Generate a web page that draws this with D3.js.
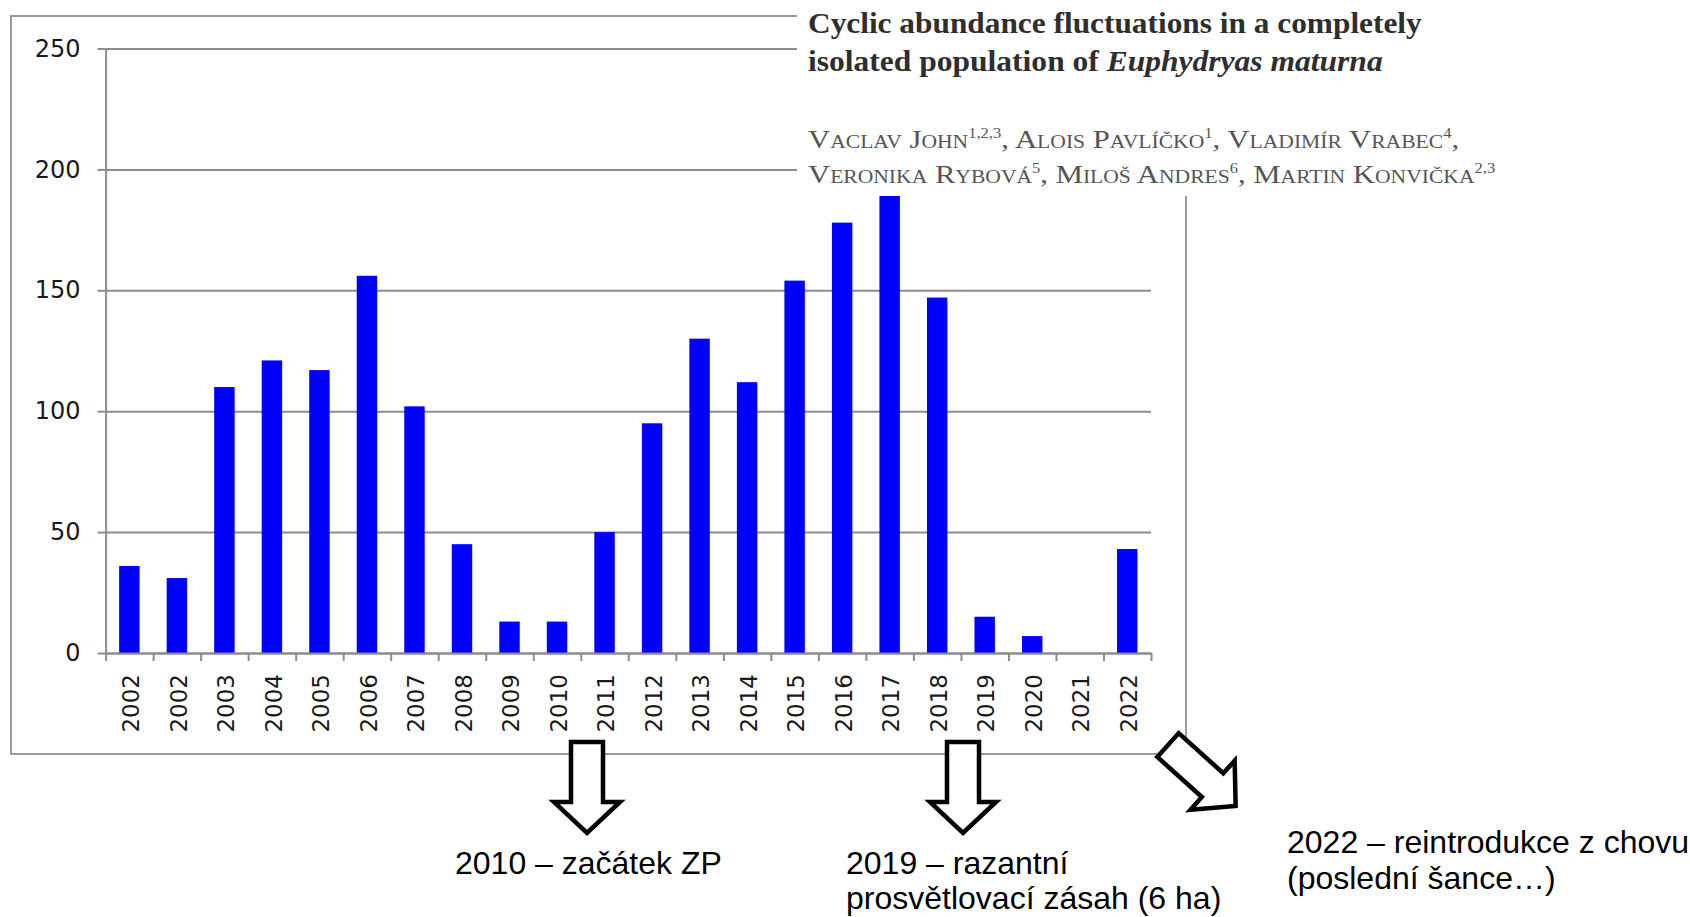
<!DOCTYPE html>
<html>
<head>
<meta charset="utf-8">
<script src="https://cdn.jsdelivr.net/npm/d3@7"></script>
<style>
  body { margin: 0; background: #fff; }
  svg { display: block; }
</style>
</head>
<body>
<div id="chart"></div>
<script>
// data
var years = ["2002", "2002", "2003", "2004", "2005", "2006", "2007", "2008", "2009", "2010", "2011",
             "2012", "2013", "2014", "2015", "2016", "2017", "2018", "2019", "2020", "2021", "2022"];
var counts = [36, 31, 110, 121, 117, 156, 102, 45, 13, 13, 50, 95, 130, 112, 154, 178, 192, 147, 15, 7, 0, 43];
var yTicks = [0, 50, 100, 150, 200, 250];

var titleLines = ["Cyclic abundance fluctuations in a completely", "isolated population of "];
var speciesName = "Euphydryas maturna";
var authorLines = [
    [["Vaclav John", "1,2,3"], ["Alois Pavlíčko", "1"], ["Vladimír Vrabec", "4"]],
    [["Veronika Rybová", "5"], ["Miloš Andres", "6"], ["Martin Konvička", "2,3"]]
];
var notes = [
    { lines: ["2010 – začátek ZP"], x: 455, y: 874, lh: 34 },
    { lines: ["2019 – razantní", "prosvětlovací zásah (6 ha)"], x: 846, y: 874, lh: 35 },
    { lines: ["2022 – reintrodukce z chovu", "(poslední šance…)"], x: 1287, y: 853, lh: 36 }
];

var W = 1690, H = 917;
var plot = { left: 105.6, right: 1151, top: 48.5, bottom: 653 };

var svg = d3.select("#chart").append("svg")
    .attr("width", W)
    .attr("height", H);

// outer frame of the chart picture
svg.append("rect")
    .attr("x", 11).attr("y", 16)
    .attr("width", 1175).attr("height", 738)
    .attr("fill", "none")
    .attr("stroke", "#9a9a9a")
    .attr("stroke-width", 2);

var x = d3.scaleBand()
    .domain(d3.range(years.length))
    .range([plot.left, plot.right])
    .paddingInner(0.57)
    .paddingOuter(0.285);

var xEdge = d3.scaleLinear()
    .domain([0, years.length])
    .range([plot.left, plot.right]);

var y = d3.scaleLinear()
    .domain([0, 250])
    .range([plot.bottom, plot.top]);

// gridlines
svg.append("g")
    .attr("transform", "translate(" + plot.left + ",0)")
    .call(d3.axisLeft(y).tickValues(yTicks).tickSize(-(plot.right - plot.left)).tickFormat(""))
    .call(function(g) { g.select(".domain").remove(); })
    .selectAll("line")
    .attr("stroke", "#8c8c8c")
    .attr("stroke-width", 2);

// y axis
var yAxis = svg.append("g")
    .attr("transform", "translate(" + plot.left + ",0)")
    .call(d3.axisLeft(y).tickValues(yTicks).tickSize(8).tickPadding(17).tickSizeOuter(0));
yAxis.selectAll("line, path").attr("stroke", "#8c8c8c").attr("stroke-width", 2);
yAxis.selectAll("text")
    .attr("font-family", "DejaVu Sans")
    .attr("font-size", 24)
    .attr("fill", "#1a1a1a");

// bars
svg.append("g")
    .selectAll("rect")
    .data(counts)
    .join("rect")
    .attr("x", function(d, i) { return x(i); })
    .attr("y", function(d) { return y(d); })
    .attr("width", x.bandwidth())
    .attr("height", function(d) { return y(0) - y(d); })
    .attr("fill", "#0000ff");

// x axis: ticks on category edges
var xTicks = svg.append("g")
    .attr("transform", "translate(0," + plot.bottom + ")")
    .call(d3.axisBottom(xEdge).tickValues(d3.range(years.length + 1)).tickSize(8).tickSizeOuter(0).tickFormat(""));
xTicks.selectAll("line, path").attr("stroke", "#8c8c8c").attr("stroke-width", 2);

// x labels, rotated
var xLabels = svg.append("g")
    .attr("transform", "translate(0," + plot.bottom + ")")
    .call(d3.axisBottom(x).tickSize(0).tickPadding(0).tickFormat(function(i) { return years[i]; }));
xLabels.select(".domain").remove();
xLabels.selectAll("text")
    .attr("font-family", "DejaVu Sans")
    .attr("font-size", 23)
    .attr("fill", "#1a1a1a")
    .attr("text-anchor", "end")
    .attr("transform", "rotate(-90)")
    .attr("x", -21)
    .attr("y", 0)
    .attr("dy", "0.42em");

// title box pasted on top (white background hides the grid)
svg.append("rect")
    .attr("x", 797).attr("y", 0)
    .attr("width", 710).attr("height", 196)
    .attr("fill", "#fff");

var title = svg.append("g").attr("font-family", "Liberation Serif").attr("font-weight", "bold")
    .attr("fill", "#2e2e2e").attr("font-size", 30);
title.append("text").attr("x", 808).attr("y", 33).text(titleLines[0]);
var t2 = title.append("text").attr("x", 808).attr("y", 71);
t2.append("tspan").text(titleLines[1]);
t2.append("tspan").attr("font-style", "italic").text(speciesName);

var authors = svg.append("g").attr("font-family", "Liberation Serif")
    .attr("fill", "#555").attr("font-size", 26).style("font-variant", "small-caps");
authorLines.forEach(function(line, li) {
    var t = authors.append("text").attr("x", 808).attr("y", 148 + li * 35);
    line.forEach(function(a, ai) {
        t.append("tspan").text((ai > 0 ? " " : "") + a[0]);
        t.append("tspan").attr("dy", -10).attr("font-size", 14).text(a[1]);
        t.append("tspan").attr("dy", 10).text(ai < line.length - 1 || li == 0 ? "," : "");
    });
});

// stretch the pasted title lines to the widths seen in the picture
var targetW = [614, 575, 645, 680];
svg.selectAll("g text").filter(function() { return this.getAttribute("x") == "808"; })
    .each(function(d, i) {
        var w = this.getBBox().width;
        var k = targetW[i] / w;
        d3.select(this).attr("transform", "translate(808,0) scale(" + k + ",1) translate(-808,0)");
    });

// hollow arrows
var arrowPath = "M-16,0 L16,0 L16,60 L33,60 L0,91 L-33,60 L-16,60 Z";
var arrows = [
    { x: 587, y: 742, r: 0 },
    { x: 963, y: 742, r: 0 },
    { x: 1168, y: 745, r: -48 }
];
svg.append("g")
    .selectAll("path")
    .data(arrows)
    .join("path")
    .attr("d", arrowPath)
    .attr("transform", function(d) { return "translate(" + d.x + "," + d.y + ") rotate(" + d.r + ")"; })
    .attr("fill", "#fff")
    .attr("stroke", "#000")
    .attr("stroke-width", 4.5)
    .attr("stroke-linejoin", "miter");

// notes under the arrows
var noteG = svg.append("g").attr("font-family", "Liberation Sans").attr("font-size", 32).attr("fill", "#000");
notes.forEach(function(n) {
    var t = noteG.append("text").attr("x", n.x).attr("y", n.y);
    n.lines.forEach(function(s, i) {
        t.append("tspan").attr("x", n.x).attr("dy", i == 0 ? 0 : n.lh).text(s);
    });
});
</script>
</body>
</html>
